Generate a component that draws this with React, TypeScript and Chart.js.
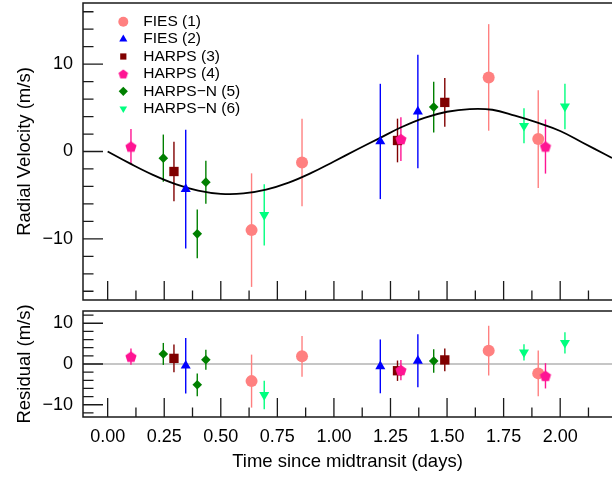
import React, { useEffect, useRef } from 'react';
import { Chart, registerables } from 'chart.js';
import { drawPoint } from 'chart.js/helpers';

Chart.register(...registerables);

const FONT = '"Liberation Sans", Arial, Helvetica, sans-serif';

// ---------- data ----------
const SERIES_LABELS = ['FIES (1)', 'FIES (2)', 'HARPS (3)', 'HARPS (4)', 'HARPS\u2212N (5)', 'HARPS\u2212N (6)'];
const SERIES_COLORS = ['#FF8080', '#0000FF', '#800000', '#FF1493', '#008000', '#00FF7F'];

const FIES1_T = [0.636, 0.859, 1.684, 1.903];
const FIES1_RV = [-9.0, -1.26, 8.48, 1.42];
const FIES1_ERR = [6.5, 5.0, 6.1, 5.6];
const FIES1_RES = [-4.2, 1.88, 3.28, -2.3];

const FIES2_T = [0.345, 1.205, 1.371];
const FIES2_RV = [-4.31, 1.15, 4.58];
const FIES2_ERR = [6.8, 6.6, 6.5];
const FIES2_RES = [-0.42, -0.58, 0.8];

const HARPS3_T = [0.293, 1.281, 1.49];
const HARPS3_RV = [-2.29, 1.26, 5.62];
const HARPS3_ERR = [3.4, 2.5, 2.8];
const HARPS3_RES = [1.38, -1.65, 1.0];

const HARPS4_T = [0.103, 1.296, 1.935];
const HARPS4_RV = [0.57, 1.42, 0.57];
const HARPS4_ERR = [2.0, 2.5, 3.1];
const HARPS4_RES = [1.8, -1.5, -2.9];

const HARPSN5_T = [0.246, 0.396, 0.434, 1.441];
const HARPSN5_RV = [-0.76, -9.43, -3.51, 5.08];
const HARPSN5_ERR = [2.7, 2.8, 2.46, 2.9];
const HARPSN5_RES = [2.47, -5.1, 1.06, 0.74];

const HARPSN6_T = [0.692, 1.84, 2.021];
const HARPSN6_RV = [-7.25, 2.94, 5.16];
const HARPSN6_ERR = [3.5, 2.0, 2.6];
const HARPSN6_RES = [-7.6, 2.87, 5.2];

const MODEL_T = [0, 0.1, 0.2, 0.3, 0.4, 0.5, 0.6, 0.7, 0.8, 0.9, 1.0, 1.1, 1.2, 1.3, 1.4, 1.5, 1.6, 1.7, 1.8, 1.9, 2.0, 2.1, 2.2, 2.229];
const MODEL_RV = [0, -1.39, -2.67, -3.73, -4.47, -4.84, -4.8, -4.36, -3.56, -2.45, -1.14, 0.2, 1.5, 2.8, 3.85, 4.55, 4.86, 4.78, 4.1, 3.3, 2.35, 1.0, -0.35, -0.75];

const SERIES_T = [FIES1_T, FIES2_T, HARPS3_T, HARPS4_T, HARPSN5_T, HARPSN6_T];
const SERIES_RV = [FIES1_RV, FIES2_RV, HARPS3_RV, HARPS4_RV, HARPSN5_RV, HARPSN6_RV];
const SERIES_ERR = [FIES1_ERR, FIES2_ERR, HARPS3_ERR, HARPS4_ERR, HARPSN5_ERR, HARPSN6_ERR];
const SERIES_RES = [FIES1_RES, FIES2_RES, HARPS3_RES, HARPS4_RES, HARPSN5_RES, HARPSN6_RES];

// ---------- axes ----------
const X_MIN = -0.109;
const X_MAX = 2.229;
const RV_MIN = -17;
const RV_MAX = 17;
const RES_MIN = -13;
const RES_MAX = 13;
const X_MAJOR_TICKS = [0, 0.25, 0.5, 0.75, 1, 1.25, 1.5, 1.75, 2];
const X_MINOR_TICKS = [0.125, 0.375, 0.625, 0.875, 1.125, 1.375, 1.625, 1.875, 2.125];
const Y_MAJOR_TICKS = [-10, 0, 10];
const RV_MINOR_TICKS = [-16, -14, -12, -8, -6, -4, -2, 2, 4, 6, 8, 12, 14, 16];
const RES_MINOR_TICKS = [-12, -8, -6, -4, -2, 2, 4, 6, 8, 12];

function makePentagon(r: number, color: string): HTMLCanvasElement {
  const size = Math.ceil(2 * r + 2);
  const c = document.createElement('canvas');
  c.width = size;
  c.height = size;
  const g = c.getContext('2d')!;
  g.fillStyle = color;
  g.beginPath();
  const cy = size / 2 + r * 0.09;
  for (let k = 0; k < 5; k++) {
    const a = -Math.PI / 2 + (k * 2 * Math.PI) / 5;
    const px = size / 2 + r * Math.cos(a);
    const py = cy + r * Math.sin(a);
    if (k === 0) g.moveTo(px, py);
    else g.lineTo(px, py);
  }
  g.closePath();
  g.fill();
  return c;
}

function makeStyles() {
  return [
    { style: 'circle', radius: 6, rotation: 0, legendStyle: 'circle', legendRadius: 5 },
    { style: 'triangle', radius: 5.8, rotation: 0, legendStyle: 'triangle', legendRadius: 4.7 },
    { style: 'rect', radius: 6.6, rotation: 0, legendStyle: 'rect', legendRadius: 4.4 },
    { style: makePentagon(5.9, SERIES_COLORS[3]), radius: 6, rotation: 0, legendStyle: makePentagon(5, SERIES_COLORS[3]), legendRadius: 5 },
    { style: 'rectRot', radius: 4.8, rotation: 0, legendStyle: 'rectRot', legendRadius: 4.6 },
    { style: 'triangle', radius: 5.8, rotation: 180, legendStyle: 'triangle', legendRadius: 4.4 },
  ];
}

const fmtY = (v: number) => (v < 0 ? '\u2212' + Math.abs(v) : String(v));

function panelPlugin(opts: { yMinor: number[]; zeroLine: boolean; legend: boolean; styles: any[] }) {
  return {
    id: 'panelDecor',
    beforeDatasetsDraw(chart: any) {
      const { ctx, chartArea } = chart;
      const xs = chart.scales.x;
      const ys = chart.scales.y;
      ctx.save();
      ctx.beginPath();
      ctx.rect(chartArea.left, chartArea.top, chartArea.right - chartArea.left, chartArea.bottom - chartArea.top);
      ctx.clip();
      if (opts.zeroLine) {
        const y0 = ys.getPixelForValue(0);
        ctx.strokeStyle = '#B3B3B3';
        ctx.lineWidth = 1.5;
        ctx.beginPath();
        ctx.moveTo(chartArea.left, y0);
        ctx.lineTo(chartArea.right, y0);
        ctx.stroke();
      }
      chart.data.datasets.forEach((ds: any) => {
        if (!ds.errorBars) return;
        ctx.strokeStyle = ds.borderColor;
        ctx.lineWidth = 1.4;
        ds.data.forEach((p: any, j: number) => {
          const e = ds.errorBars[j];
          const px = xs.getPixelForValue(p.x);
          ctx.beginPath();
          ctx.moveTo(px, ys.getPixelForValue(p.y - e));
          ctx.lineTo(px, ys.getPixelForValue(p.y + e));
          ctx.stroke();
        });
      });
      ctx.restore();
    },
    afterDatasetsDraw(chart: any) {
      const { ctx, chartArea } = chart;
      const { left, right, top, bottom } = chartArea;
      const xs = chart.scales.x;
      const ys = chart.scales.y;
      ctx.save();
      ctx.strokeStyle = '#1a1a1a';
      ctx.lineWidth = 1.5;
      ctx.beginPath();
      ctx.moveTo(right + 2, top);
      ctx.lineTo(left, top);
      ctx.lineTo(left, bottom);
      ctx.lineTo(right + 2, bottom);
      ctx.stroke();
      ctx.lineWidth = 1.3;
      ctx.beginPath();
      Y_MAJOR_TICKS.forEach((v) => {
        const py = ys.getPixelForValue(v);
        ctx.moveTo(left, py);
        ctx.lineTo(left + 20, py);
      });
      opts.yMinor.forEach((v) => {
        const py = ys.getPixelForValue(v);
        ctx.moveTo(left, py);
        ctx.lineTo(left + 10.5, py);
      });
      X_MAJOR_TICKS.forEach((v) => {
        const px = xs.getPixelForValue(v);
        ctx.moveTo(px, bottom);
        ctx.lineTo(px, bottom - 19);
      });
      X_MINOR_TICKS.forEach((v) => {
        const px = xs.getPixelForValue(v);
        if (px > right) return;
        ctx.moveTo(px, bottom);
        ctx.lineTo(px, bottom - 9.5);
      });
      ctx.stroke();
      ctx.restore();
    },
    afterDraw(chart: any) {
      if (!opts.legend) return;
      const { ctx, chartArea } = chart;
      const { left, top } = chartArea;
      ctx.save();
      ctx.font = `15.5px ${FONT}`;
      ctx.textBaseline = 'middle';
      ctx.textAlign = 'left';
      SERIES_LABELS.forEach((label, i) => {
        const cy = top + 18.7 + i * 17.4;
        const st = opts.styles[i];
        ctx.fillStyle = SERIES_COLORS[i];
        drawPoint(ctx, { pointStyle: st.legendStyle, radius: st.legendRadius, rotation: st.rotation, borderWidth: 0 } as any, left + 40.3, cy);
        ctx.fillStyle = '#000';
        ctx.fillText(label, left + 60.3, cy);
      });
      ctx.restore();
    },
  };
}

function pointDatasets(values: number[][], styles: any[]) {
  return SERIES_LABELS.map((label, i) => ({
    type: 'scatter' as const,
    label,
    data: SERIES_T[i].map((t, j) => ({ x: t, y: values[i][j] })),
    errorBars: SERIES_ERR[i],
    backgroundColor: SERIES_COLORS[i],
    borderColor: SERIES_COLORS[i],
    pointStyle: styles[i].style,
    pointRadius: styles[i].radius,
    pointRotation: styles[i].rotation,
    pointBorderWidth: 0,
    showLine: false,
    order: 10 - i,
  }));
}

function yAxis(min: number, max: number, title: string) {
  return {
    type: 'linear' as const,
    min,
    max,
    grid: { display: false, drawTicks: false },
    border: { display: false },
    afterBuildTicks: (s: any) => {
      s.ticks = Y_MAJOR_TICKS.map((v) => ({ value: v }));
    },
    afterFit: (s: any) => {
      s.width = 83;
      s.paddingTop = 0;
      s.paddingBottom = 0;
    },
    ticks: {
      padding: 10,
      color: '#000',
      font: { family: FONT, size: 18 },
      callback: (v: any) => fmtY(Number(v)),
    },
    title: {
      display: true,
      text: title,
      color: '#000',
      font: { family: FONT, size: 18.5 },
      padding: { top: 13.9, bottom: 0 },
    },
  };
}

export default function App() {
  const topRef = useRef<HTMLCanvasElement>(null);
  const botRef = useRef<HTMLCanvasElement>(null);

  useEffect(() => {
    const styles = makeStyles();
    const top = new Chart(topRef.current!, {
      type: 'scatter',
      data: {
        datasets: [
          ...pointDatasets(SERIES_RV, styles),
          {
            type: 'line' as const,
            label: 'model',
            data: MODEL_T.map((t, j) => ({ x: t, y: MODEL_RV[j] })),
            borderColor: '#000',
            borderWidth: 1.8,
            pointRadius: 0,
            tension: 0.4,
            fill: false,
            order: 50,
          } as any,
        ],
      },
      options: {
        animation: false,
        responsive: false,
        maintainAspectRatio: false,
        events: [],
        layout: { autoPadding: false, padding: { top: 3, left: 0, right: 0, bottom: 0 } },
        plugins: { legend: { display: false }, tooltip: { enabled: false } },
        scales: {
          x: {
            type: 'linear',
            min: X_MIN,
            max: X_MAX,
            grid: { display: false, drawTicks: false },
            border: { display: false },
            ticks: { display: false },
            afterFit: (s: any) => {
              s.height = 2;
              s.paddingLeft = 0;
              s.paddingRight = 0;
            },
          },
          y: yAxis(RV_MIN, RV_MAX, 'Radial Velocity (m/s)'),
        },
      } as any,
      plugins: [panelPlugin({ yMinor: RV_MINOR_TICKS, zeroLine: false, legend: true, styles })],
    });

    const bot = new Chart(botRef.current!, {
      type: 'scatter',
      data: { datasets: pointDatasets(SERIES_RES, styles) as any },
      options: {
        animation: false,
        responsive: false,
        maintainAspectRatio: false,
        events: [],
        layout: { autoPadding: false, padding: { top: 9, left: 0, right: 0, bottom: 0 } },
        plugins: { legend: { display: false }, tooltip: { enabled: false } },
        scales: {
          x: {
            type: 'linear',
            min: X_MIN,
            max: X_MAX,
            grid: { display: false, drawTicks: false },
            border: { display: false },
            afterBuildTicks: (s: any) => {
              s.ticks = X_MAJOR_TICKS.map((v) => ({ value: v }));
            },
            afterFit: (s: any) => {
              s.height = 60;
              s.paddingLeft = 0;
              s.paddingRight = 0;
            },
            ticks: {
              autoSkip: false,
              maxRotation: 0,
              padding: 9.2,
              color: '#000',
              font: { family: FONT, size: 18 },
              callback: (v: any) => Number(v).toFixed(2),
            },
            title: {
              display: true,
              text: 'Time since midtransit (days)',
              color: '#000',
              font: { family: FONT, size: 18.5 },
              padding: { top: 0, bottom: 3.9 },
            },
          },
          y: yAxis(RES_MIN, RES_MAX, 'Residual (m/s)'),
        },
      } as any,
      plugins: [panelPlugin({ yMinor: RES_MINOR_TICKS, zeroLine: true, legend: false, styles })],
    });

    return () => {
      top.destroy();
      bot.destroy();
    };
  }, []);

  return (
    <div style={{ position: 'absolute', left: 0, top: 0, width: 612, height: 477, overflow: 'hidden', background: '#fff' }}>
      <canvas ref={topRef} width={612} height={302} style={{ position: 'absolute', left: 0, top: 0, width: 612, height: 302 }} />
      <canvas ref={botRef} width={612} height={175} style={{ position: 'absolute', left: 0, top: 302, width: 612, height: 175 }} />
    </div>
  );
}
